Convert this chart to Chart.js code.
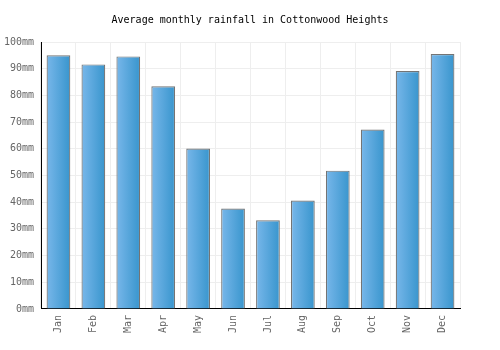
<!DOCTYPE html>
<html>
<head>
<meta charset="utf-8">
<script src="https://cdn.jsdelivr.net/npm/chart.js@4/dist/chart.umd.min.js"></script>
<style>
  html, body { margin: 0; padding: 0; background: #fff; }
  #wrap { width: 500px; height: 350px; position: relative; }
</style>
</head>
<body>
<div id="wrap"><canvas id="chart_rainfall"></canvas></div>
<script>
// values
var months = ['Jan', 'Feb', 'Mar', 'Apr', 'May', 'Jun', 'Jul', 'Aug', 'Sep', 'Oct', 'Nov', 'Dec'];
var rainfallMm = [95.0, 91.6, 94.6, 83.4, 60.1, 37.6, 33.2, 40.6, 51.8, 67.2, 89.1, 95.5];
var yTicks = [0, 10, 20, 30, 40, 50, 60, 70, 80, 90, 100];

var FONT = '"DejaVu Sans Mono", monospace';
var BAR_PCT = 0.68;

// left-to-right gradient for each bar, built from the x scale
function barFill(context) {
    var chart = context.chart;
    var xs = chart.scales.x;
    if (!chart.chartArea || !xs || context.dataIndex === undefined) {
        return '#5aa8de';
    }
    var cx = xs.getPixelForValue(context.dataIndex);
    var half = (xs.width / months.length) * BAR_PCT / 2;
    var g = chart.ctx.createLinearGradient(cx - half, 0, cx + half, 0);
    g.addColorStop(0, '#78b7ea');
    g.addColorStop(1, '#3895cd');
    return g;
}

var chart_rainfall = new Chart(document.getElementById('chart_rainfall'), {
    type: 'bar',
    data: {
        labels: months,
        datasets: [
            {
                label: 'Rainfall',
                data: rainfallMm,
                backgroundColor: barFill,
                borderColor: '#747474',
                borderWidth: 1.2,
                borderSkipped: 'bottom',
                barPercentage: BAR_PCT,
                categoryPercentage: 1.0
            }
        ]
    },
    options: {
        animation: false,
        responsive: true,
        maintainAspectRatio: false,
        layout: {
            padding: { left: 0, right: 0, top: 12, bottom: 11 }
        },
        plugins: {
            legend: { display: false },
            tooltip: { enabled: false },
            title: {
                display: true,
                text: 'Average monthly rainfall in Cottonwood Heights',
                color: '#000',
                font: { family: FONT, size: 10, weight: 'normal' },
                padding: { top: 2, bottom: 16 }
            }
        },
        scales: {
            x: {
                grid: {
                    color: '#eeeeee',
                    lineWidth: 1,
                    drawTicks: false,
                    offset: true
                },
                border: { color: '#000', width: 1 },
                ticks: {
                    color: '#666',
                    font: { family: FONT, size: 10 },
                    minRotation: 90,
                    maxRotation: 90,
                    padding: 6
                }
            },
            y: {
                min: 0,
                max: 100,
                afterFit: function(scale) { scale.width = 41; },
                afterBuildTicks: function(scale) {
                    scale.ticks = yTicks.map(function(v) { return { value: v }; });
                },
                grid: {
                    color: '#eeeeee',
                    lineWidth: 1,
                    drawTicks: false
                },
                border: { color: '#000', width: 1 },
                ticks: {
                    color: '#666',
                    font: { family: FONT, size: 10 },
                    padding: 7,
                    callback: function(value) { return value + 'mm'; }
                }
            },
            // empty right axis, only to keep the right margin (title stays centred on the page)
            yRight: {
                position: 'right',
                min: 0,
                max: 100,
                afterFit: function(scale) { scale.width = 40; },
                grid: { display: false, drawTicks: false },
                border: { display: false },
                ticks: { display: false }
            }
        }
    },
    plugins: [{
        id: 'whiteBackground',
        beforeDraw: (chart) => {
            const ctx = chart.canvas.getContext('2d');
            ctx.save();
            ctx.globalCompositeOperation = 'destination-over';
            ctx.fillStyle = 'white';
            ctx.fillRect(0, 0, chart.canvas.width, chart.canvas.height);
            ctx.restore();
        }
    }]
});
</script>
</body>
</html>
